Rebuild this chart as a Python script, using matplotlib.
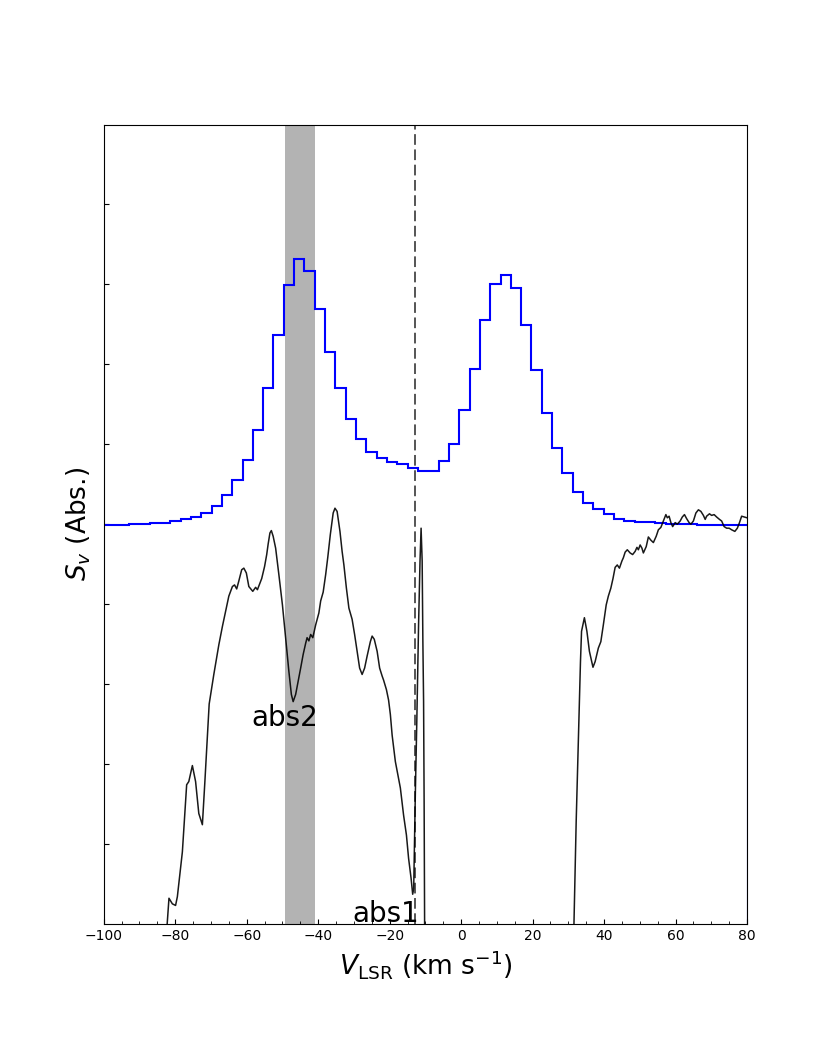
import matplotlib
matplotlib.use("Agg")
import matplotlib.pyplot as plt
import numpy as np
from matplotlib.ticker import MultipleLocator

# channel grid of the binned (blue) spectrum, km/s
chan_start = -101.6
chan_width = 2.888
# blue binned spectrum, one value per channel
blue_vals = [4.987, 4.991, 4.996, 5.000, 5.006, 5.013, 5.021, 5.038,
             5.059, 5.091, 5.141, 5.229, 5.367, 5.548, 5.806, 6.182,
             6.708, 7.365, 7.995, 8.317, 8.162, 7.690, 7.159, 6.700,
             6.319, 6.069, 5.902, 5.823, 5.781, 5.756, 5.705, 5.660,
             5.660, 5.789, 5.998, 6.429, 6.946, 7.556, 8.003, 8.120,
             7.953, 7.497, 6.932, 6.387, 5.948, 5.643, 5.401, 5.263,
             5.188, 5.125, 5.071, 5.046, 5.033, 5.025, 5.016, 5.008,
             5.003, 5.000, 4.996, 4.994, 4.991, 4.989, 4.987]

# black high resolution spectrum (velocity, flux)
black_v = [-82.5, -81.75, -80.8, -79.9, -79.4, -78.0, -76.8, -76.2, -75.2, -74.3,
           -73.4, -72.4, -71.7, -70.5, -69.2, -67.8, -66.8, -65.9, -65.0, -64.0,
           -63.4, -62.8, -62.2, -61.4, -60.8, -60.1, -59.4, -58.3, -57.5, -57.0,
           -56.3, -55.8, -55.0, -54.4, -54.0, -53.5, -53.1, -52.6, -51.9, -51.0,
           -50.0, -49.1, -48.2, -47.5, -47.0, -46.3, -45.7, -44.9, -44.2, -43.5,
           -43.1, -42.6, -42.1, -41.5, -40.7, -39.8, -39.3, -38.6, -37.9, -37.3,
           -36.6, -35.8, -35.3, -34.7, -33.9, -33.3, -32.8, -32.1, -31.4, -30.5,
           -29.8, -29.1, -28.4, -27.7, -27.0, -26.3, -25.4, -24.9, -24.3, -23.5,
           -22.8, -22.1, -21.7, -20.9, -20.3, -19.8, -19.3, -18.4, -17.0, -16.1,
           -15.3, -14.7, -14.0, -13.55, -13.27, -12.8, -12.4, -11.9, -11.5, -11.2,
           -10.9, -10.7, -10.5, -10.35, -10.2, -10.0, 31.4,
           31.5, 32.2, 32.8, 33.1, 33.4, 33.7, 34.5, 35.2, 35.9, 36.9,
           37.5, 38.4, 39.1, 39.8, 40.6, 41.2, 41.9, 42.5, 43.1, 43.7,
           44.3, 45.0, 45.4, 45.9, 46.5, 47.3, 48.0, 48.7, 49.2, 49.6,
           50.1, 50.6, 51.0, 51.8, 52.4, 53.1, 53.8, 54.6, 55.2, 55.9,
           56.6, 57.3, 57.7, 58.2, 58.7, 59.2, 59.9, 60.5, 61.3, 61.9,
           62.5, 63.1, 63.8, 64.3, 65.0, 65.7, 66.4, 67.1, 67.8, 68.3,
           68.7, 69.5, 70.1, 70.8, 71.5, 72.3, 72.9, 73.6, 74.3, 75.0,
           75.7, 76.6, 77.3, 77.9, 78.5, 79.2, 80.0]
black_s = [-0.16, 0.32, 0.25, 0.23, 0.34, 0.90, 1.74, 1.78, 1.98, 1.78,
           1.38, 1.24, 1.78, 2.75, 3.12, 3.49, 3.72, 3.91, 4.10, 4.22,
           4.24, 4.19, 4.29, 4.43, 4.45, 4.39, 4.22, 4.16, 4.21, 4.18,
           4.26, 4.32, 4.47, 4.62, 4.75, 4.89, 4.92, 4.85, 4.70, 4.37,
           3.99, 3.58, 3.16, 2.87, 2.78, 2.87, 3.01, 3.20, 3.37, 3.51,
           3.58, 3.54, 3.62, 3.58, 3.74, 3.89, 4.04, 4.15, 4.37, 4.59,
           4.87, 5.14, 5.20, 5.16, 4.91, 4.66, 4.49, 4.20, 3.95, 3.81,
           3.62, 3.41, 3.20, 3.12, 3.20, 3.35, 3.53, 3.60, 3.56, 3.41,
           3.20, 3.10, 3.05, 2.93, 2.80, 2.62, 2.36, 2.03, 1.70, 1.36,
           1.11, 0.82, 0.57, 0.37, 0.44, 1.65, 2.53, 3.75, 4.54, 4.95,
           4.54, 3.53, 2.78, 1.53, -0.16, -1.0, -1.0,
           -0.16, 1.28, 2.28, 2.78, 3.28, 3.66, 3.83, 3.66, 3.41, 3.21,
           3.28, 3.45, 3.53, 3.74, 3.99, 4.10, 4.20, 4.32, 4.46, 4.49,
           4.45, 4.54, 4.58, 4.65, 4.68, 4.64, 4.62, 4.66, 4.71, 4.68,
           4.74, 4.70, 4.64, 4.72, 4.84, 4.80, 4.77, 4.85, 4.93, 4.96,
           5.04, 5.12, 5.08, 5.10, 5.02, 4.97, 5.02, 5.00, 5.04, 5.09,
           5.12, 5.07, 5.02, 5.00, 5.04, 5.14, 5.18, 5.16, 5.11, 5.06,
           5.10, 5.13, 5.11, 5.12, 5.09, 5.06, 5.04, 4.97, 4.95, 4.95,
           4.93, 4.91, 4.95, 5.02, 5.10, 5.09, 5.08]

band = (-49.4, -41.0)
v_sys = -12.8


def main():
    edges = chan_start + chan_width * np.arange(len(blue_vals) + 1)

    fig, ax = plt.subplots(figsize=(8.3, 10.38), dpi=100)

    ax.axvspan(band[0], band[1], facecolor="0.7", edgecolor="none", zorder=0)
    ax.axvline(v_sys, color="k", alpha=0.85, lw=1.1, ls=(0, (7, 3)), zorder=1)
    ax.stairs(blue_vals, edges, color="blue", lw=1.5, zorder=2)
    ax.plot(black_v, black_s, color="k", lw=1.1, alpha=0.9, zorder=3)

    ax.text(-58.6, 2.47, "abs2", fontsize=20, ha="left", va="baseline")
    ax.text(-30.5, 0.025, "abs1", fontsize=20, ha="left", va="baseline")

    ax.set_xlim(-100, 80)
    ax.set_ylim(0, 10)
    ax.xaxis.set_major_locator(MultipleLocator(20))
    ax.xaxis.set_minor_locator(MultipleLocator(5))
    ax.set_yticks(np.arange(1, 10))
    ax.set_yticklabels([])
    ax.tick_params(direction="in", which="both")

    ax.set_xlabel(r"$V_{\rm LSR}$ (km s$^{-1}$)", fontsize=19)
    ax.set_ylabel(r"$S_v$ (Abs.)", fontsize=19)

    fig.savefig("out.png", dpi=100)


if __name__ == "__main__":
    main()
